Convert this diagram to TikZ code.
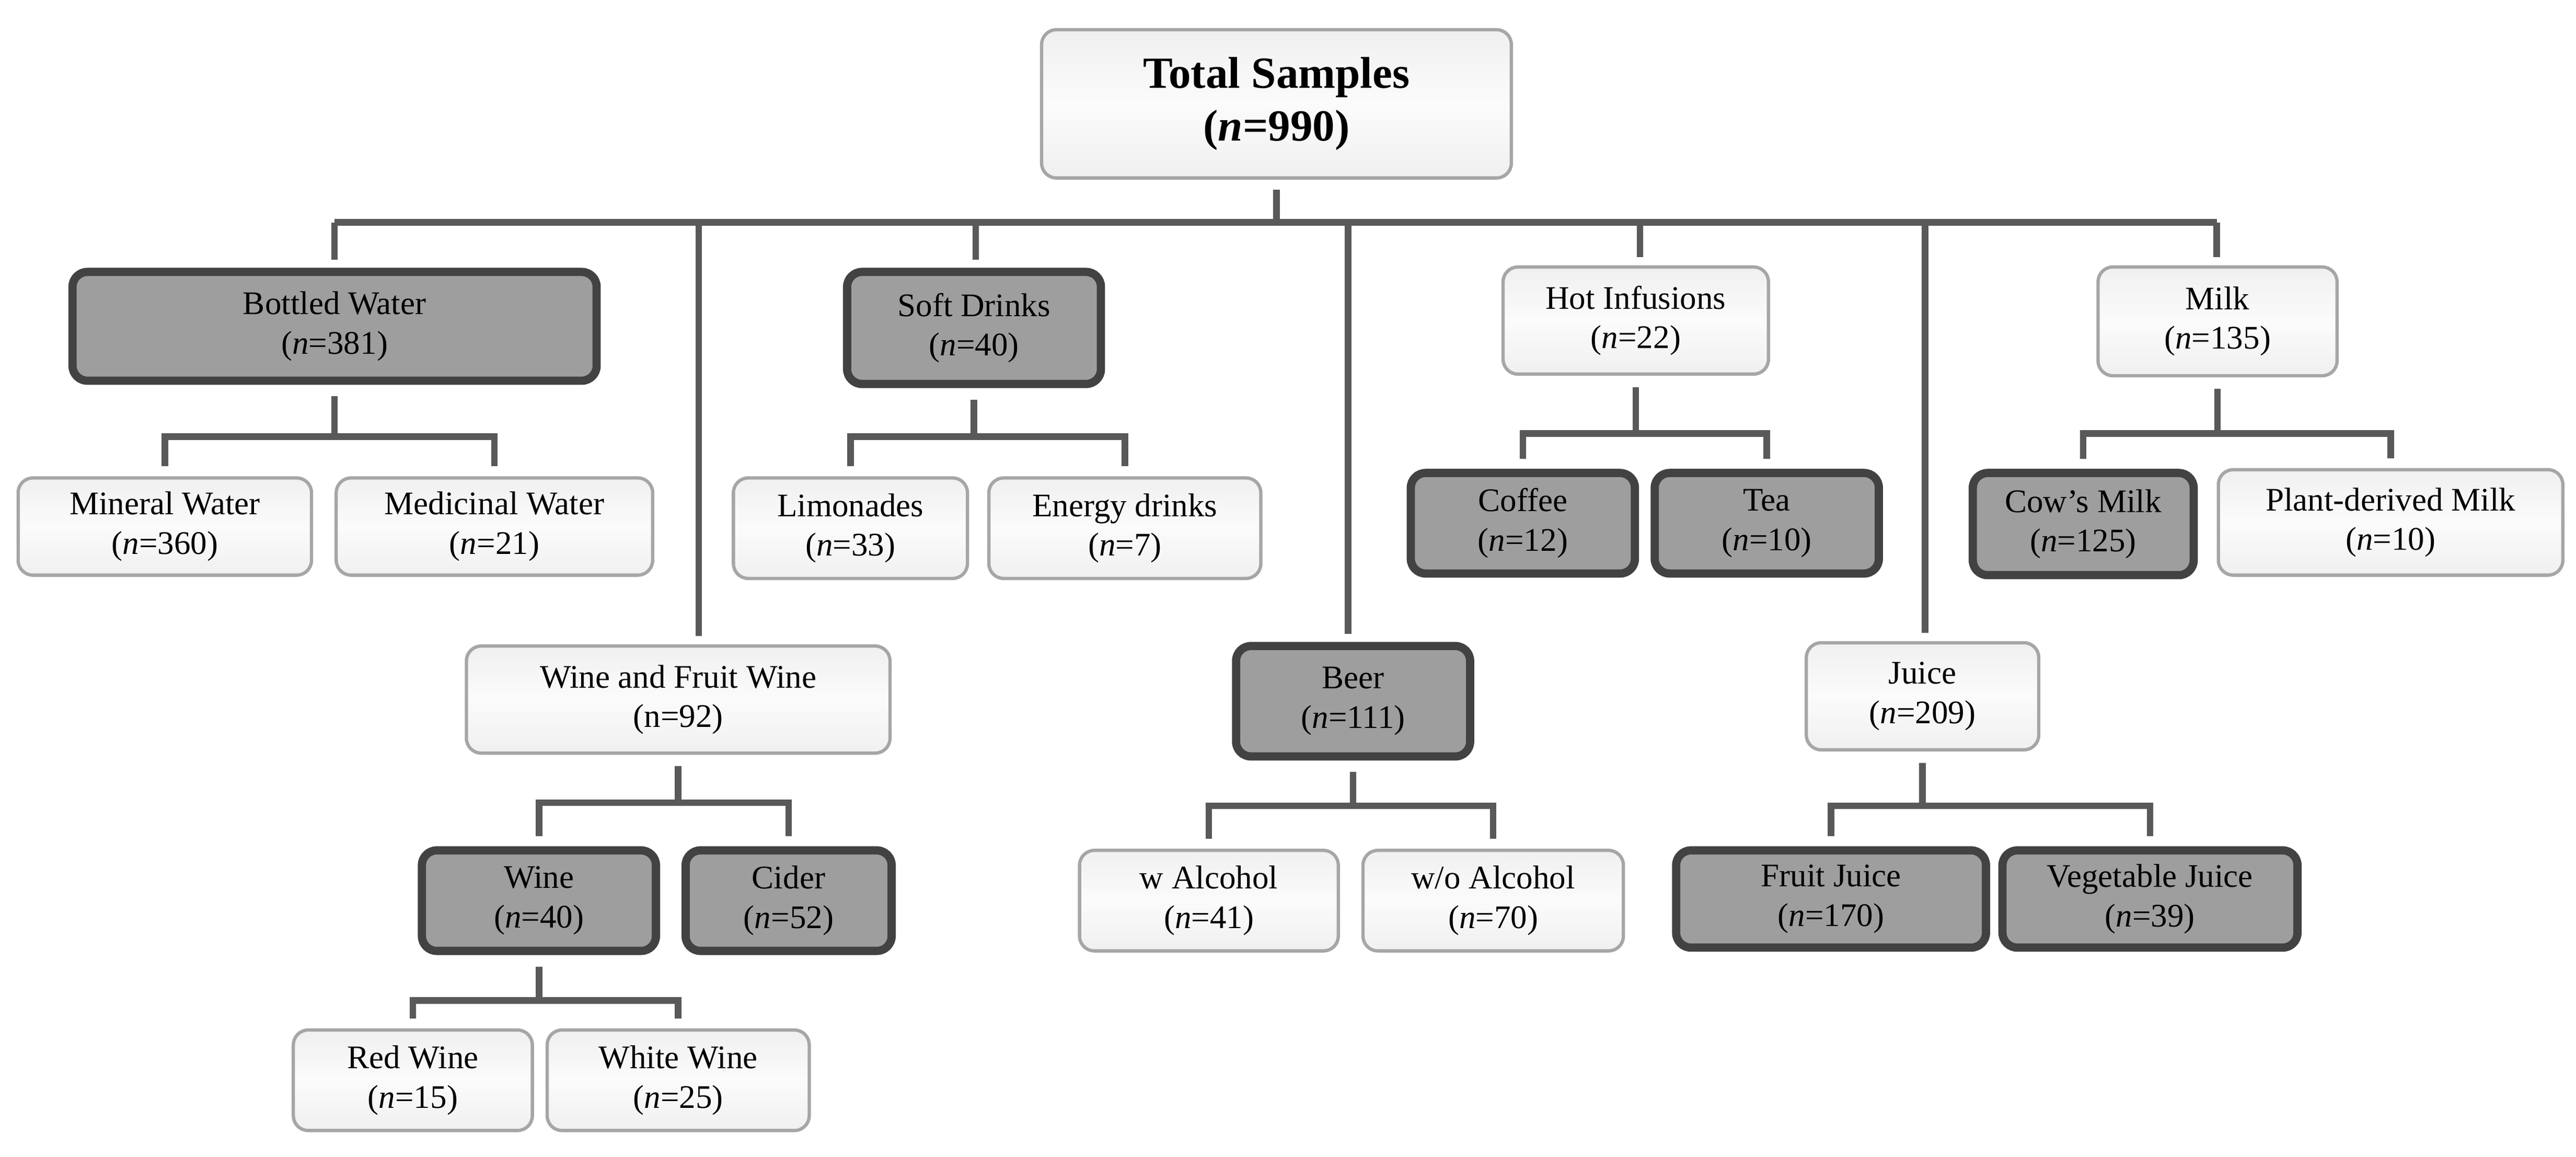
\documentclass[tikz,border=0pt]{standalone}
\usepackage{fontspec}
\setmainfont{Liberation Serif}
\begin{document}
\begin{tikzpicture}[x=1pt,y=-1pt,
  base/.style={rounded corners=9pt,align=center,inner sep=0pt,font=\fontsize{20}{24}\selectfont},
  lbox/.style={base,top color=gray!12,bottom color=gray!12,middle color=gray!3,draw=black!35,line width=2pt},
  dbox/.style={base,fill=black!38,draw=black!74,line width=5pt},
  conn/.style={draw=black!65,line width=4pt}]
\useasboundingbox (0,0) rectangle (1563,702);
\newcommand{\bx}[7]{\node[#1,minimum width=#4pt,minimum height=#5pt] (#2) at (#3) {#6\\(\textit{n}=#7)};}
\node[lbox,minimum width=285pt,minimum height=90pt,font=\fontsize{27}{32}\selectfont\bfseries] (tot) at (774.5,63) {Total Samples\\(\textit{n}=990)};
\bx{dbox}{bw}{203,198}{318}{66}{Bottled Water}{381}
\bx{lbox}{mw}{100,319.5}{178}{59}{Mineral Water}{360}
\bx{lbox}{mdw}{300,319.5}{192}{59}{Medicinal Water}{21}
\bx{dbox}{sd}{591,199}{154}{68}{Soft Drinks}{40}
\bx{lbox}{li}{516,320.5}{142}{61}{Limonades}{33}
\bx{lbox}{en}{682.5,320.5}{165}{61}{Energy drinks}{7}
\bx{lbox}{hi}{992.5,194.5}{161}{65}{Hot Infusions}{22}
\bx{dbox}{co}{924,317.5}{136}{61}{Coffee}{12}
\bx{dbox}{te}{1072,317.5}{136}{61}{Tea}{10}
\bx{lbox}{mi}{1345.5,195}{145}{66}{Milk}{135}
\bx{dbox}{cm}{1264,318}{134}{62}{Cow's Milk}{125}
\bx{lbox}{pm}{1450.5,317}{209}{64}{Plant-derived Milk}{10}
\node[lbox,minimum width=257pt,minimum height=65pt] (wf) at (411.5,424.5) {Wine and Fruit Wine\\(n=92)};
\bx{dbox}{wi}{327,546.5}{142}{61}{Wine}{40}
\bx{dbox}{ci}{478.5,546.5}{125}{61}{Cider}{52}
\bx{lbox}{rw}{250.5,655.5}{145}{61}{Red Wine}{15}
\bx{lbox}{ww}{411.5,655.5}{159}{61}{White Wine}{25}
\bx{dbox}{be}{821,425.5}{142}{67}{Beer}{111}
\bx{lbox}{wa}{733.5,546.5}{157}{61}{w Alcohol}{41}
\bx{lbox}{woa}{906,546.5}{158}{61}{w/o Alcohol}{70}
\bx{lbox}{ju}{1166.5,422.5}{141}{65}{Juice}{209}
\bx{dbox}{fj}{1111,545.5}{188}{59}{Fruit Juice}{170}
\bx{dbox}{vj}{1304.5,545.5}{179}{59}{Vegetable Juice}{39}
% top bus
\coordinate (busL) at (203,135);
\coordinate (busR) at (1345,135);
\draw[conn] (busL) -- (busR);
\draw[conn,shorten <=6pt] (tot.south) -- (tot.south |- busL);
\foreach \n/\xx in {bw/203,wf/424,sd/592,be/818,hi/995,ju/1168,mi/1345}
  \draw[conn,shorten >=5pt] (\xx,135) -- (\xx,135 |- \n.north);
% brackets
\newcommand{\brk}[4]{%
  \draw[conn,shorten <=7pt] (#1.south) -- (#1.south |- 0,#4);
  \draw[conn,shorten <=6pt,shorten >=6pt] (#2.north) -- (#2.north |- 0,#4) -- (#3.north |- 0,#4) -- (#3.north);}
\brk{bw}{mw}{mdw}{265}
\brk{sd}{li}{en}{265}
\brk{hi}{co}{te}{263}
\brk{mi}{cm}{pm}{263}
\brk{wf}{wi}{ci}{487}
\brk{wi}{rw}{ww}{607}
\brk{be}{wa}{woa}{489}
\brk{ju}{fj}{vj}{489}
\end{tikzpicture}
\end{document}
